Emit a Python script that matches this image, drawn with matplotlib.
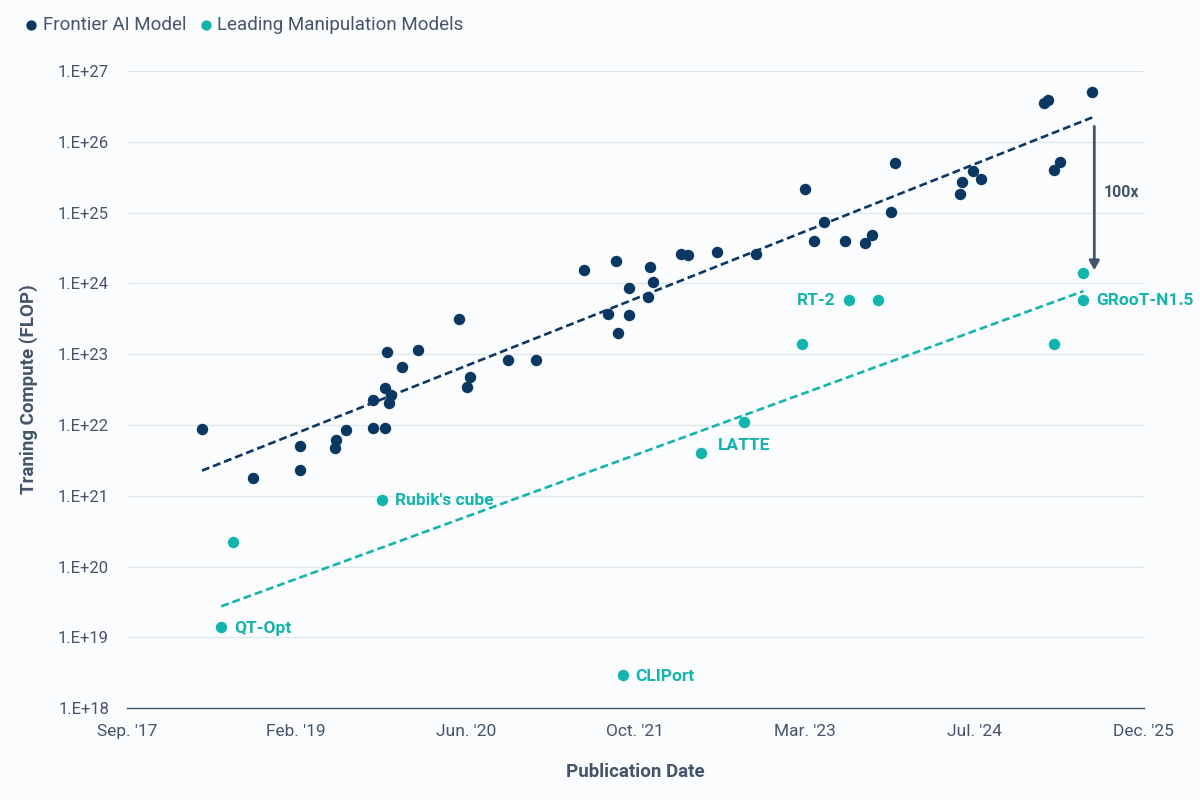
import matplotlib
matplotlib.use("Agg")
import matplotlib.pyplot as plt
import matplotlib.dates as mdates
from matplotlib.ticker import FuncFormatter, FixedLocator
import numpy as np
import datetime as dt

# ---------------- data ----------------
frontier_dates = [
    "2018-04-30", "2018-09-28", "2019-02-14", "2019-02-14", "2019-05-27", "2019-05-30",
    "2019-06-29", "2019-09-17", "2019-10-23", "2019-09-17", "2019-10-23", "2019-11-08",
    "2019-11-03", "2019-10-29", "2019-12-12", "2020-01-28", "2020-05-28", "2020-06-29",
    "2020-06-19", "2020-10-19", "2021-01-09", "2021-05-31", "2021-09-02", "2021-08-09",
    "2021-10-11", "2021-09-09", "2021-10-11", "2021-12-11", "2021-12-21", "2021-12-06",
    "2022-03-13", "2022-04-03", "2022-06-28", "2022-10-20", "2023-03-14", "2023-04-10",
    "2023-05-09", "2023-07-10", "2023-09-07", "2023-09-28", "2023-11-23", "2023-12-04",
    "2024-06-14", "2024-06-20", "2024-07-22", "2024-08-15", "2025-02-16", "2025-02-28",
    "2025-03-18", "2025-04-04", "2025-07-08",
]
frontier_flop = [
    8.7e21, 1.77e21, 2.3e21, 5.0e21, 4.7e21, 6.1e21,
    8.4e21, 9.0e21, 9.0e21, 2.25e22, 3.3e22, 2.65e22,
    2.07e22, 1.07e23, 6.7e22, 1.14e23, 3.1e23, 4.8e22,
    3.4e22, 8.2e22, 8.2e22, 1.53e24, 2.05e24, 3.7e23,
    3.54e23, 1.99e23, 8.5e23, 1.70e24, 1.04e24, 6.4e23,
    2.6e24, 2.52e24, 2.77e24, 2.62e24, 2.15e25, 3.93e24,
    7.4e24, 3.93e24, 3.75e24, 4.8e24, 1.02e25, 5.0e25,
    1.81e25, 2.7e25, 3.86e25, 2.98e25, 3.49e26, 3.88e26,
    3.95e25, 5.1e25, 4.99e26,
]

manip_dates = [
    "2018-06-26", "2018-07-31", "2019-10-14", "2021-09-23", "2022-05-11", "2022-09-15",
    "2023-03-06", "2023-07-22", "2023-10-14", "2025-03-18", "2025-06-12", "2025-06-12",
]
manip_flop = [
    1.39e19, 2.23e20, 8.65e20, 2.92e18, 4.03e21, 1.09e22,
    1.38e23, 5.77e23, 5.9e23, 1.38e23, 1.39e24, 5.77e23,
]
manip_labels = ["QT-Opt", "", "Rubik's cube", "CLIPort", "", "LATTE",
                "", "RT-2", "", "", "", "GRooT-N1.5"]

series_names = ["Frontier AI Model", "Leading Manipulation Models"]
y_ticks = [1e18, 1e19, 1e20, 1e21, 1e22, 1e23, 1e24, 1e25, 1e26, 1e27]
x_start = "2017-09-20"
x_tick_step_days = 500
x_tick_count = 7
gap_text = "100x"
x_title = "Publication Date"
y_title = "Traning Compute (FLOP)"

# ---------------- style ----------------
DARK = "#0B3862"
TEAL = "#14B4AE"
TEXT = "#44546A"
GRID = "#E1E8EC"
BG = "#FBFCFE"
FONT = "Roboto"

plt.rcParams["font.family"] = [FONT, "DejaVu Sans"]

fd = mdates.date2num([dt.datetime.strptime(d, "%Y-%m-%d") for d in frontier_dates])
md = mdates.date2num([dt.datetime.strptime(d, "%Y-%m-%d") for d in manip_dates])
fy = np.array(frontier_flop)
my = np.array(manip_flop)

start = dt.datetime.strptime(x_start, "%Y-%m-%d")
xticks = [start + dt.timedelta(days=x_tick_step_days * k) for k in range(x_tick_count)]
xtick_num = mdates.date2num(xticks)

fig = plt.figure(figsize=(12, 8), dpi=100, facecolor=BG)
ax = fig.add_axes([126.7 / 1200, 1 - 708.3 / 800, (1143.8 - 126.7) / 1200, (708.3 - 70.9) / 800])
ax.set_facecolor(BG)

ax.set_yscale("log")
ax.set_ylim(y_ticks[0], y_ticks[-1])
ax.set_xlim(xtick_num[0], xtick_num[-1])

ax.yaxis.set_major_locator(FixedLocator(y_ticks))
ax.yaxis.set_minor_locator(FixedLocator([]))
ax.yaxis.set_major_formatter(FuncFormatter(lambda v, p: f"1.E+{int(round(np.log10(v)))}"))
ax.xaxis.set_major_locator(FixedLocator(xtick_num))
ax.xaxis.set_major_formatter(mdates.DateFormatter("%b. '%y"))

ax.grid(axis="y", color=GRID, lw=1.0, zorder=0)
ax.grid(axis="x", visible=False)
for s in ["top", "right", "left"]:
    ax.spines[s].set_visible(False)
ax.spines["bottom"].set_color(TEXT)
ax.spines["bottom"].set_linewidth(1.0)
ax.tick_params(axis="x", length=0, labelsize=12.5, colors=TEXT, pad=11)
ax.tick_params(axis="y", length=0, labelsize=12, colors=TEXT, pad=12.7)

# trend lines (exponential fit, as in a spreadsheet trendline)
for xs, ys, col in [(fd, fy, DARK), (md, my, TEAL)]:
    b, a = np.polyfit(xs, np.log10(ys), 1)
    xx = np.array([xs.min(), xs.max()])
    ax.plot(xx, 10 ** (a + b * xx), color=col, lw=1.9, ls=(0, (3.0, 1.5)), zorder=2)

ax.scatter(fd, fy, s=68, color=DARK, zorder=3, linewidths=0, label=series_names[0])
ax.scatter(md, my, s=68, color=TEAL, zorder=3, linewidths=0, label=series_names[1])

# point labels
for x, y, lab in zip(md, my, manip_labels):
    if not lab:
        continue
    if lab == "RT-2":
        ax.annotate(lab, (x, y), xytext=(-10, 0), textcoords="offset points",
                    ha="right", va="center", color=TEAL, fontsize=12.5, fontweight="bold")
    elif lab == "LATTE":
        ax.annotate(lab, (x, y), xytext=(0, -17), textcoords="offset points",
                    ha="center", va="center", color=TEAL, fontsize=12.5, fontweight="bold")
    else:
        ax.annotate(lab, (x, y), xytext=(9, -0.5), textcoords="offset points",
                    ha="left", va="center", color=TEAL, fontsize=12.5, fontweight="bold")

# 100x arrow between the two trends at the right edge
arrow_x = fd.max() + 6
ax.annotate("", xy=(arrow_x, my.max() * 1.1), xytext=(arrow_x, 1.65e26),
            arrowprops=dict(arrowstyle="-|>,head_length=0.55,head_width=0.3",
                            color=TEXT, lw=2.0, shrinkA=0, shrinkB=0), zorder=4)
ax.annotate(gap_text, (arrow_x, 10 ** 25.28), xytext=(7, 0), textcoords="offset points",
            ha="left", va="center", color=TEXT, fontsize=11.5, fontweight="bold")

ax.set_xlabel(x_title, fontsize=13.5, fontweight="bold", color=TEXT)
ax.set_ylabel(y_title, fontsize=13.5, fontweight="bold", color=TEXT)
ax.xaxis.set_label_coords(0.5, -(763 - 708.3) / 637.4)
ax.yaxis.set_label_coords(-(126.7 - 38) / 1017.1, 0.5)

leg = fig.legend(loc="center left", bbox_to_anchor=(0.012, 1 - 25 / 800), ncol=2, frameon=False,
                 fontsize=13.5, handletextpad=0.1, columnspacing=0.55, markerscale=0.9,
                 handlelength=1.0, borderaxespad=0)
for t in leg.get_texts():
    t.set_color(TEXT)

fig.savefig("out.png", dpi=100, facecolor=BG)
